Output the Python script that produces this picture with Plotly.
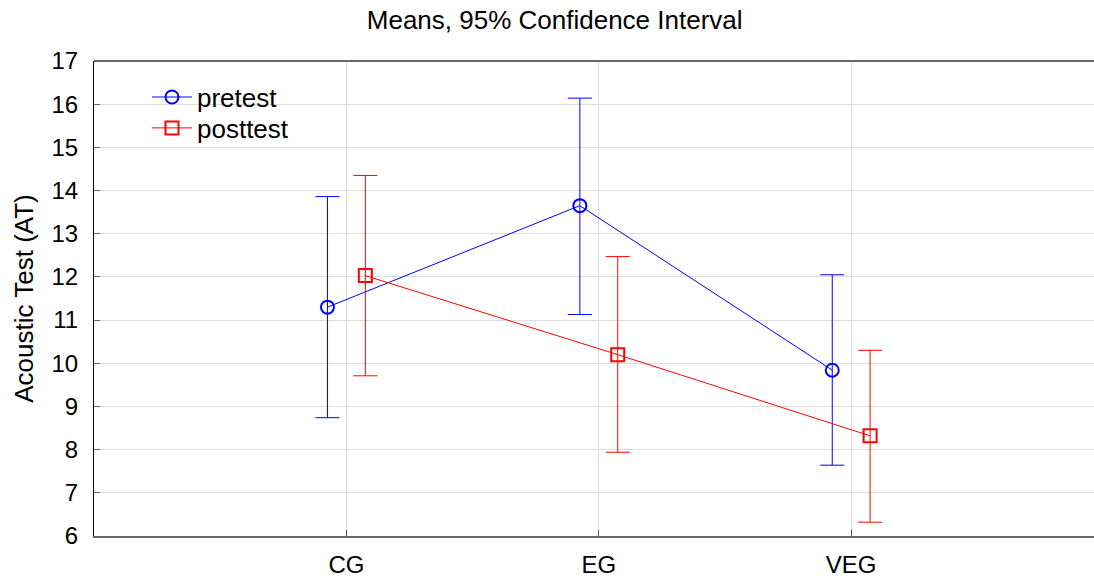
import plotly.graph_objects as go

categories = ["CG", "EG", "VEG"]
pre_mean = [11.30, 13.65, 9.84]
pre_upper = [13.86, 16.14, 12.05]
pre_lower = [8.74, 11.13, 7.64]
post_mean = [12.03, 10.20, 8.32]
post_upper = [14.35, 12.47, 10.30]
post_lower = [9.71, 7.94, 6.32]

cat_pos = [1, 2, 3]
offset = 0.075

def build(mean, upper, lower, shift, color, symbol, name, legend):
    xs = [p + shift for p in cat_pos]
    return go.Scatter(
        x=xs, y=mean, name=name, mode="lines+markers", legend=legend,
        line=dict(color=color, width=1),
        marker=dict(symbol=symbol, size=13, color=color,
                    line=dict(color=color, width=2)),
        error_y=dict(type="data", symmetric=False,
                     array=[u - m for u, m in zip(upper, mean)],
                     arrayminus=[m - l for m, l in zip(mean, lower)],
                     color=color, thickness=1, width=12),
    )

fig = go.Figure()
fig.add_trace(build(pre_mean, pre_upper, pre_lower, -offset, "#0000ff", "circle-open", "pretest", "legend"))
fig.add_trace(build(post_mean, post_upper, post_lower, offset, "#ff0000", "square-open", "posttest", "legend2"))

legend_style = dict(xanchor="left", yanchor="middle", font=dict(size=26),
                    bgcolor="rgba(0,0,0,0)", itemwidth=40)

fig.update_layout(
    width=1094, height=577,
    margin=dict(l=94, r=0, t=61, b=41),
    paper_bgcolor="white", plot_bgcolor="white",
    font=dict(family="Liberation Sans, Arial", color="black"),
    title=dict(text="Means, 95% Confidence Interval", x=0.507, xanchor="center",
               y=0.965, yanchor="middle", font=dict(size=26)),
    showlegend=True,
    legend=dict(x=0.053, y=0.924, **legend_style),
    legend2=dict(x=0.053, y=0.859, **legend_style),
    xaxis=dict(range=[0, 3.962], tickmode="array", tickvals=cat_pos, ticktext=categories,
               showgrid=True, gridcolor="#dcdcdc", gridwidth=1,
               ticks="inside", ticklen=6, tickcolor="#555555",
               showline=True, linecolor="#666666", linewidth=2,
               tickfont=dict(size=24), zeroline=False, mirror=False,
               ticklabelstandoff=6),
    yaxis=dict(range=[6, 17], dtick=1, showgrid=True, gridcolor="#dcdcdc", gridwidth=1,
               ticks="inside", ticklen=6, tickcolor="#666666",
               showline=True, linecolor="black", linewidth=1,
               tickfont=dict(size=24), zeroline=False, ticklabelstandoff=10,
               title=dict(text="Acoustic Test (AT)", font=dict(size=26), standoff=10)),
)
# top border of the plot area
fig.add_shape(type="line", xref="paper", yref="paper", x0=0, x1=1, y0=1, y1=1,
              line=dict(color="#666666", width=2))

fig.write_html("out.html", config={"displayModeBar": False},
               post_script="document.body.style.margin='0px';")
